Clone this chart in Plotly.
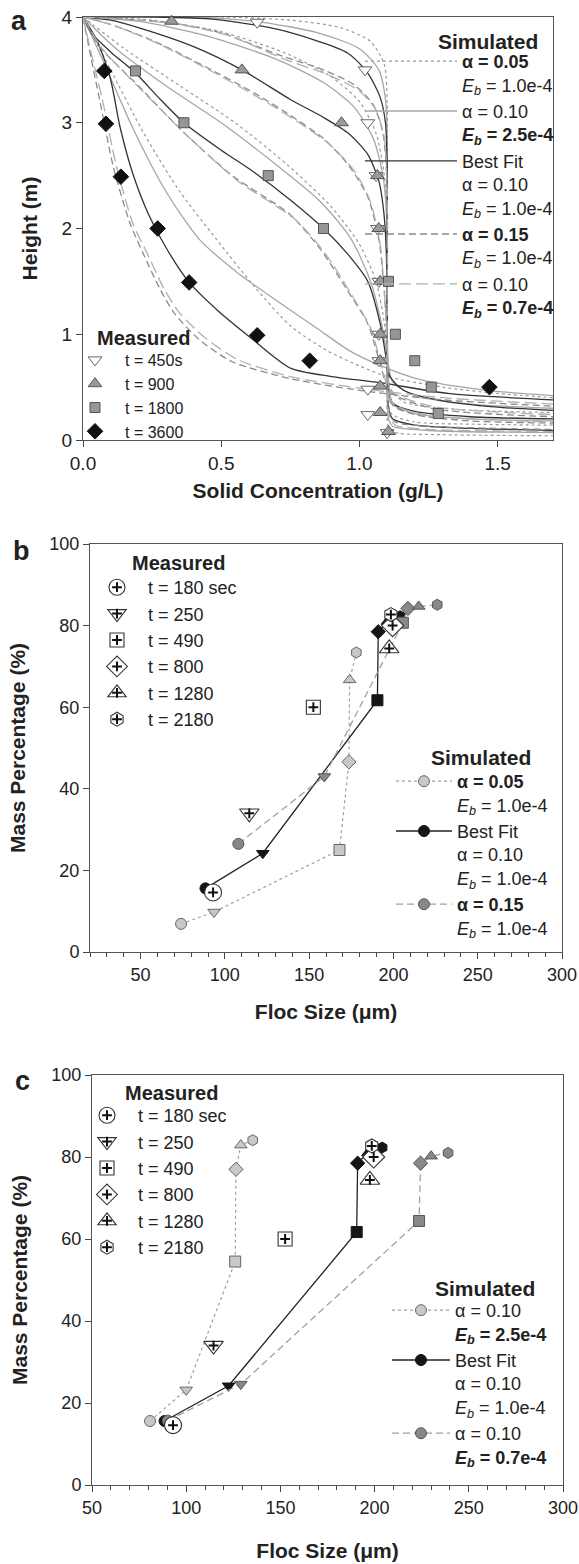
import plotly.graph_objects as go

W, H = 579, 1564
FONT = "Liberation Sans, Arial, sans-serif"

# ================= Panel a : measured =================
a_t450_x = [0.63, 1.02, 1.03, 1.06, 1.065, 1.07, 1.07, 1.07, 1.03, 1.03, 1.10]
a_t450_y = [3.95, 3.5, 3.0, 2.5, 2.0, 1.5, 1.0, 0.75, 0.48, 0.24, 0.07]
a_t900_x = [0.32, 0.575, 0.935, 1.065, 1.07, 1.075, 1.075, 1.075, 1.075, 1.075, 1.105]
a_t900_y = [3.96, 3.5, 3.0, 2.5, 2.0, 1.5, 1.0, 0.75, 0.51, 0.26, 0.08]
a_t1800_x = [0.19, 0.365, 0.67, 0.87, 1.105, 1.13, 1.20, 1.26, 1.285]
a_t1800_y = [3.49, 3.0, 2.5, 2.0, 1.5, 1.0, 0.75, 0.5, 0.25]
a_t3600_x = [0.077, 0.083, 0.137, 0.27, 0.384, 0.63, 0.82, 1.47]
a_t3600_y = [3.49, 2.99, 2.49, 2.0, 1.49, 0.99, 0.75, 0.5]

# ================= Panel a : simulated curves =================
# S1: alpha=0.05, Eb=1.0e-4 (dotted)
s1_450_x = [0, 0.5, 0.75, 0.93, 1.04, 1.09, 1.1, 1.1, 1.1, 1.105, 1.13, 1.3, 1.7]
s1_450_y = [4, 4.0, 3.97, 3.9, 3.77, 3.55, 3.2, 2.0, 0.5, 0.12, 0.07, 0.05, 0.04]
s1_900_x = [0, 0.25, 0.5, 0.74, 0.9, 1.0, 1.06, 1.09, 1.1, 1.1, 1.105, 1.115, 1.2, 1.4, 1.7]
s1_900_y = [4, 3.97, 3.86, 3.65, 3.43, 3.2, 2.9, 2.5, 2.0, 1.0, 0.5, 0.25, 0.17, 0.15, 0.14]
s1_1800_x = [0, 0.15, 0.35, 0.55, 0.74, 0.9, 1.0, 1.06, 1.09, 1.1, 1.11, 1.16, 1.35, 1.7]
s1_1800_y = [4, 3.7, 3.35, 3.0, 2.6, 2.2, 1.85, 1.5, 1.1, 0.8, 0.5, 0.36, 0.29, 0.26]
s1_3600_x = [0, 0.1, 0.22, 0.35, 0.485, 0.62, 0.75, 0.88, 1.0, 1.1, 1.3, 1.5, 1.7]
s1_3600_y = [4, 3.5, 2.9, 2.35, 1.89, 1.45, 1.08, 0.85, 0.7, 0.6, 0.5, 0.44, 0.40]
# S2: alpha=0.10, Eb=2.5e-4 (light solid)
s2_450_x = [0, 0.4, 0.65, 0.85, 1.0, 1.07, 1.095, 1.1, 1.1, 1.1, 1.105, 1.12, 1.25, 1.7]
s2_450_y = [4, 4.0, 3.95, 3.85, 3.7, 3.5, 3.2, 2.8, 1.5, 0.5, 0.2, 0.13, 0.09, 0.07]
s2_900_x = [0, 0.2, 0.45, 0.7, 0.87, 0.98, 1.05, 1.085, 1.1, 1.1, 1.105, 1.115, 1.2, 1.4, 1.7]
s2_900_y = [4, 3.96, 3.82, 3.6, 3.38, 3.15, 2.85, 2.5, 2.0, 1.2, 0.6, 0.35, 0.25, 0.2, 0.18]
s2_1800_x = [0, 0.12, 0.3, 0.5, 0.7, 0.86, 0.97, 1.04, 1.08, 1.1, 1.12, 1.2, 1.4, 1.7]
s2_1800_y = [4, 3.7, 3.35, 3.0, 2.6, 2.25, 1.9, 1.5, 1.1, 0.8, 0.55, 0.42, 0.34, 0.30]
s2_3600_x = [0, 0.07, 0.18, 0.3, 0.42, 0.56, 0.71, 0.85, 0.96, 1.07, 1.22, 1.46, 1.7]
s2_3600_y = [4, 3.6, 2.95, 2.35, 1.9, 1.58, 1.3, 1.05, 0.85, 0.71, 0.57, 0.47, 0.42]
# S3: best fit (dark solid)
s3_450_x = [0, 0.25, 0.47, 0.71, 0.957, 1.03, 1.075, 1.094, 1.1, 1.1, 1.1, 1.105, 1.12, 1.2, 1.4, 1.7]
s3_450_y = [4, 4.0, 3.98, 3.88, 3.66, 3.47, 3.24, 3.0, 2.6, 1.5, 0.6, 0.3, 0.2, 0.14, 0.11, 0.09]
s3_900_x = [0, 0.1, 0.2, 0.4, 0.575, 0.75, 0.87, 0.96, 1.03, 1.07, 1.09, 1.1, 1.1, 1.105, 1.12, 1.2, 1.4, 1.7]
s3_900_y = [4, 3.97, 3.9, 3.72, 3.5, 3.22, 3.05, 2.9, 2.7, 2.45, 2.1, 1.5, 0.8, 0.5, 0.35, 0.27, 0.22, 0.2]
s3_1800_x = [0, 0.03, 0.1, 0.19, 0.28, 0.365, 0.5, 0.62, 0.75, 0.87, 0.96, 1.03, 1.075, 1.095, 1.11, 1.16, 1.3, 1.5, 1.7]
s3_1800_y = [4, 3.85, 3.67, 3.47, 3.22, 3.0, 2.74, 2.53, 2.27, 2.0, 1.75, 1.5, 1.1, 0.8, 0.6, 0.47, 0.37, 0.31, 0.28]
s3_3600_x = [0, 0.05, 0.098, 0.134, 0.18, 0.236, 0.30, 0.384, 0.485, 0.605, 0.75, 0.9, 1.08, 1.32, 1.7]
s3_3600_y = [4, 3.78, 3.43, 2.96, 2.52, 2.14, 1.82, 1.49, 1.23, 0.97, 0.68, 0.6, 0.54, 0.44, 0.38]
# S4: alpha=0.15, Eb=1.0e-4 (dashed)
s4_450_x = [0, 0.3, 0.5, 0.71, 0.87, 0.98, 1.05, 1.085, 1.1, 1.1, 1.1, 1.108, 1.13, 1.25, 1.7]
s4_450_y = [4, 3.95, 3.85, 3.64, 3.5, 3.36, 3.17, 2.9, 2.4, 1.2, 0.5, 0.25, 0.17, 0.13, 0.1]
s4_900_x = [0, 0.1, 0.25, 0.45, 0.62, 0.75, 0.87, 0.96, 1.03, 1.07, 1.09, 1.1, 1.105, 1.12, 1.2, 1.4, 1.7]
s4_900_y = [4, 3.93, 3.78, 3.52, 3.28, 3.07, 2.85, 2.6, 2.3, 1.9, 1.4, 0.9, 0.55, 0.33, 0.24, 0.18, 0.16]
s4_1800_x = [0, 0.06, 0.2, 0.36, 0.54, 0.75, 0.86, 0.955, 1.03, 1.075, 1.11, 1.26, 1.7]
s4_1800_y = [4, 3.72, 3.35, 2.92, 2.5, 2.13, 1.8, 1.42, 1.1, 0.72, 0.46, 0.3, 0.22]
s4_3600_x = [0, 0.03, 0.06, 0.11, 0.17, 0.22, 0.28, 0.33, 0.42, 0.54, 0.75, 1.0, 1.3, 1.7]
s4_3600_y = [4, 3.6, 3.22, 2.58, 2.05, 1.75, 1.42, 1.2, 0.95, 0.74, 0.58, 0.47, 0.38, 0.32]
# S5: alpha=0.10, Eb=0.7e-4 (long dash)
s5_450_x = [0, 0.32, 0.52, 0.73, 0.89, 1.0, 1.06, 1.09, 1.1, 1.1, 1.1, 1.108, 1.13, 1.25, 1.7]
s5_450_y = [4, 3.94, 3.83, 3.6, 3.45, 3.3, 3.12, 2.85, 2.35, 1.2, 0.5, 0.22, 0.14, 0.1, 0.08]
s5_900_x = [0, 0.11, 0.27, 0.47, 0.64, 0.77, 0.89, 0.98, 1.04, 1.075, 1.09, 1.1, 1.105, 1.12, 1.2, 1.4, 1.7]
s5_900_y = [4, 3.92, 3.75, 3.48, 3.23, 3.02, 2.8, 2.55, 2.25, 1.85, 1.4, 0.9, 0.55, 0.35, 0.26, 0.2, 0.17]
s5_1800_x = [0, 0.07, 0.215, 0.38, 0.56, 0.77, 0.88, 0.97, 1.04, 1.08, 1.11, 1.26, 1.7]
s5_1800_y = [4, 3.7, 3.3, 2.87, 2.45, 2.08, 1.75, 1.38, 1.06, 0.7, 0.47, 0.32, 0.24]
s5_3600_x = [0, 0.035, 0.07, 0.12, 0.18, 0.235, 0.295, 0.35, 0.44, 0.56, 0.75, 1.0, 1.3, 1.7]
s5_3600_y = [4, 3.6, 3.22, 2.6, 2.05, 1.75, 1.42, 1.2, 0.97, 0.76, 0.6, 0.49, 0.4, 0.34]

# ================= Panels b, c : floc size distributions =================
times_labels = ["t = 180 sec", "t = 250", "t = 490", "t = 800", "t = 1280", "t = 2180"]
meas_x = [93, 114.5, 152.5, 199.5, 197.5, 198.5]
meas_y = [14.6, 34.0, 60.0, 80.0, 74.4, 82.7]
best_x = [88.5, 122.5, 190.5, 191.0, 196.5, 204.0]
best_y = [15.6, 24.2, 61.7, 78.5, 81.0, 82.3]
b_a005_x = [74, 93.6, 168, 173.6, 174, 178]
b_a005_y = [6.9, 9.8, 25.0, 46.6, 66.7, 73.4]
b_a015_x = [108, 159, 205.6, 208.6, 215, 226]
b_a015_y = [26.5, 43.0, 80.7, 84.2, 84.7, 85.1]
c_eb25_x = [80.8, 100, 126, 126.4, 129, 135.3]
c_eb25_y = [15.6, 23.2, 54.5, 77.0, 82.9, 84.1]
c_eb07_x = [90.2, 129, 223.6, 224.4, 230, 239]
c_eb07_y = [15.7, 24.6, 64.4, 78.5, 80.2, 81.0]

SYMS = ["circle", "triangle-down", "square", "diamond", "triangle-up", "hexagon"]
MEAS_SIZES = [17, 17, 14, 17, 17, 14]

fig = go.Figure()

# ---------- panel a curves ----------
styles = {
    "s1": dict(color="#9a9a9a", dash="dot", width=1.2),
    "s2": dict(color="#a6a6a6", dash="solid", width=1.3),
    "s3": dict(color="#333333", dash="solid", width=1.3),
    "s4": dict(color="#8a8a8a", dash="7px,4px", width=1.3),
    "s5": dict(color="#b0b0b0", dash="12px,5px", width=1.3),
}
names = {
    "s1": "<b>α = 0.05</b><br><i>E</i><sub><i>b</i></sub> = 1.0e-4",
    "s2": "α = 0.10<br><b><i>E</i><sub><i>b</i></sub> = 2.5e-4</b>",
    "s3": "Best Fit<br>α = 0.10<br><i>E</i><sub><i>b</i></sub> = 1.0e-4",
    "s4": "<b>α = 0.15</b><br><i>E</i><sub><i>b</i></sub> = 1.0e-4",
    "s5": "α = 0.10<br><b><i>E</i><sub><i>b</i></sub> = 0.7e-4</b>",
}
curves = {
    "s1": [(s1_450_x, s1_450_y), (s1_900_x, s1_900_y), (s1_1800_x, s1_1800_y), (s1_3600_x, s1_3600_y)],
    "s2": [(s2_450_x, s2_450_y), (s2_900_x, s2_900_y), (s2_1800_x, s2_1800_y), (s2_3600_x, s2_3600_y)],
    "s3": [(s3_450_x, s3_450_y), (s3_900_x, s3_900_y), (s3_1800_x, s3_1800_y), (s3_3600_x, s3_3600_y)],
    "s4": [(s4_450_x, s4_450_y), (s4_900_x, s4_900_y), (s4_1800_x, s4_1800_y), (s4_3600_x, s4_3600_y)],
    "s5": [(s5_450_x, s5_450_y), (s5_900_x, s5_900_y), (s5_1800_x, s5_1800_y), (s5_3600_x, s5_3600_y)],
}
for key in ["s1", "s2", "s3", "s4", "s5"]:
    for i, (cx, cy) in enumerate(curves[key]):
        fig.add_trace(go.Scatter(
            x=cx, y=cy, mode="lines", line=dict(shape="spline", smoothing=0.7, **styles[key]),
            name=names[key], showlegend=(i == 0), legend="legend2",
            xaxis="x", yaxis="y", hoverinfo="skip"))

# ---------- panel a measured ----------
meas_a = [
    ("t = 450s", a_t450_x, a_t450_y, "triangle-down", "white", "#666666", 12),
    ("t = 900", a_t900_x, a_t900_y, "triangle-up", "#9a9a9a", "#555555", 12),
    ("t = 1800", a_t1800_x, a_t1800_y, "square", "#969696", "#555555", 10),
    ("t = 3600", a_t3600_x, a_t3600_y, "diamond", "#111111", "#111111", 12),
]
for nm, mx, my, sym, fc, lc, sz in meas_a:
    fig.add_trace(go.Scatter(
        x=mx, y=my, mode="markers", name=nm, legend="legend",
        marker=dict(symbol=sym, size=sz, color=fc, line=dict(color=lc, width=1)),
        xaxis="x", yaxis="y", cliponaxis=False))

# ---------- panels b & c ----------
def sim_trace(x, y, name, fill, edge, lstyle, xa, ya, leg):
    return go.Scatter(
        x=x, y=y, mode="lines+markers", name=name, legend=leg,
        line=lstyle,
        marker=dict(symbol=SYMS, size=11, color=fill, line=dict(color=edge, width=1)),
        xaxis=xa, yaxis=ya, cliponaxis=False)

panels = [
    ("x2", "y2", "legend3", "legend4", "legend7",
     [(b_a005_x, b_a005_y, "<b>α = 0.05</b><br><i>E</i><sub><i>b</i></sub> = 1.0e-4", "#c8c8c8", "#666666",
       dict(color="#a0a0a0", dash="dot", width=1.2)),
      (best_x, best_y, "Best Fit<br>α = 0.10<br><i>E</i><sub><i>b</i></sub> = 1.0e-4", "#151515", "#151515",
       dict(color="#222222", width=1.3)),
      (b_a015_x, b_a015_y, "<b>α = 0.15</b><br><i>E</i><sub><i>b</i></sub> = 1.0e-4", "#888888", "#555555",
       dict(color="#a0a0a0", dash="7px,4px", width=1.3))]),
    ("x3", "y3", "legend5", "legend6", "legend8",
     [(c_eb25_x, c_eb25_y, "α = 0.10<br><b><i>E</i><sub><i>b</i></sub> = 2.5e-4</b>", "#c8c8c8", "#666666",
       dict(color="#a0a0a0", dash="dot", width=1.2)),
      (best_x, best_y, "Best Fit<br>α = 0.10<br><i>E</i><sub><i>b</i></sub> = 1.0e-4", "#151515", "#151515",
       dict(color="#222222", width=1.3)),
      (c_eb07_x, c_eb07_y, "α = 0.10<br><b><i>E</i><sub><i>b</i></sub> = 0.7e-4</b>", "#888888", "#555555",
       dict(color="#a0a0a0", dash="7px,4px", width=1.3))]),
]
for xa, ya, legm, legs, legp, sims in panels:
    for sx, sy, nm, fc, ec, ls in sims:
        fig.add_trace(sim_trace(sx, sy, nm, fc, ec, ls, xa, ya, legs))
    for i in range(6):
        fig.add_trace(go.Scatter(
            x=[meas_x[i]], y=[meas_y[i]], mode="markers", name=times_labels[i], legend=legm,
            marker=dict(symbol=SYMS[i], size=MEAS_SIZES[i], color="white", line=dict(color="#333333", width=1.1)),
            xaxis=xa, yaxis=ya, cliponaxis=False))
    # small "+" inside each measured symbol (also shown in an overlaid legend)
    for i in range(6):
        fig.add_trace(go.Scatter(
            x=[meas_x[i]], y=[meas_y[i]], mode="markers", name=times_labels[i], legend=legp,
            marker=dict(symbol="cross-thin", size=7, line=dict(color="#111111", width=2)),
            xaxis=xa, yaxis=ya, cliponaxis=False, hoverinfo="skip"))

# ---------- layout ----------
def fx(px):
    return px / W

def fy(py):
    return 1 - py / H

tickfont_a = dict(family=FONT, size=19, color="#222222")
tickfont_b = dict(family=FONT, size=18, color="#222222")
titlefont = dict(family=FONT, size=21, color="#222222")
axcommon = dict(showline=True, mirror=True, linecolor="#555555", linewidth=1,
                ticks="outside", ticklen=6, tickcolor="#444444", showgrid=False,
                zeroline=False, automargin=False)
minor = dict(dtick=10, ticks="outside", ticklen=4, tickcolor="#444444")

fig.update_layout(
    width=W, height=H, margin=dict(l=0, r=0, t=0, b=0),
    paper_bgcolor="white", plot_bgcolor="white",
    font=dict(family=FONT, size=18, color="#222222"),
    xaxis=dict(domain=[fx(83), fx(553)], range=[0, 1.7], tickvals=[0, 0.5, 1.0, 1.5], tickformat=".1f",
               anchor="y", tickfont=tickfont_a,
               title=dict(text="<b>Solid Concentration (g/L)</b>", font=titlefont, standoff=10), **axcommon),
    yaxis=dict(domain=[fy(440), fy(17)], range=[0, 4], dtick=1, anchor="x", tickfont=tickfont_a,
               title=dict(text="<b>Height (m)</b>", font=titlefont, standoff=18), **axcommon),
    xaxis2=dict(domain=[fx(90), fx(562)], range=[20, 300], tick0=0, dtick=50, anchor="y2",
                minor=minor, tickfont=tickfont_b,
                title=dict(text="<b>Floc Size (μm)</b>", font=titlefont, standoff=20), **axcommon),
    yaxis2=dict(domain=[fy(952), fy(544)], range=[0, 100], dtick=20, anchor="x2", tickfont=tickfont_b,
                title=dict(text="<b>Mass Percentage (%)</b>", font=titlefont, standoff=18), **axcommon),
    xaxis3=dict(domain=[fx(92), fx(563)], range=[50, 300], dtick=50, anchor="y3",
                minor=minor, tickfont=tickfont_b,
                title=dict(text="<b>Floc Size (μm)</b>", font=titlefont, standoff=26), **axcommon),
    yaxis3=dict(domain=[fy(1485), fy(1075)], range=[0, 100], dtick=20, anchor="x3", tickfont=tickfont_b,
                title=dict(text="<b>Mass Percentage (%)</b>", font=titlefont, standoff=18), **axcommon),
)

legbase = dict(bgcolor="rgba(0,0,0,0)", borderwidth=0, xanchor="left", yanchor="top",
               traceorder="normal", tracegroupgap=0)
f18 = dict(family=FONT, size=18, color="#222")
f18t = dict(family=FONT, size=18, color="rgba(0,0,0,0)")
fig.update_layout(
    legend=dict(x=fx(65), y=fy(343), itemwidth=50, font=dict(family=FONT, size=16, color="#222"), **legbase),
    legend2=dict(x=fx(360), y=fy(43), itemwidth=92, valign="top", font=f18, **legbase),
    legend3=dict(x=fx(86), y=fy(569), itemwidth=52, font=f18, **legbase),
    legend7=dict(x=fx(86), y=fy(569), itemwidth=52, font=f18t, **legbase),
    legend4=dict(x=fx(391), y=fy(763), itemwidth=56, valign="top", font=f18, **legbase),
    legend5=dict(x=fx(76), y=fy(1097), itemwidth=52, font=f18, **legbase),
    legend8=dict(x=fx(76), y=fy(1097), itemwidth=52, font=f18t, **legbase),
    legend6=dict(x=fx(387), y=fy(1292), itemwidth=58, valign="top", font=f18, **legbase),
)

ann = []
def add_text(txt, px, py, size, xanchor="center"):
    ann.append(dict(text=txt, x=fx(px), y=fy(py), xref="paper", yref="paper", showarrow=False,
                    xanchor=xanchor, yanchor="middle", font=dict(family=FONT, size=size, color="#222222")))

add_text("<b>a</b>", 19, 21, 27)
add_text("<b>b</b>", 21, 551, 27)
add_text("<b>c</b>", 22, 1081, 27)
add_text("<b>Measured</b>", 143, 338, 20)
add_text("<b>Simulated</b>", 488, 42, 21)
add_text("<b>Measured</b>", 178, 563, 20)
add_text("<b>Simulated</b>", 481, 758, 21)
add_text("<b>Measured</b>", 171, 1093, 20)
add_text("<b>Simulated</b>", 485, 1288, 21)
fig.update_layout(annotations=ann)

fig.write_html("out.html", config={"displayModeBar": False},
               post_script="document.body.style.margin='0px';document.body.style.overflow='hidden';")
